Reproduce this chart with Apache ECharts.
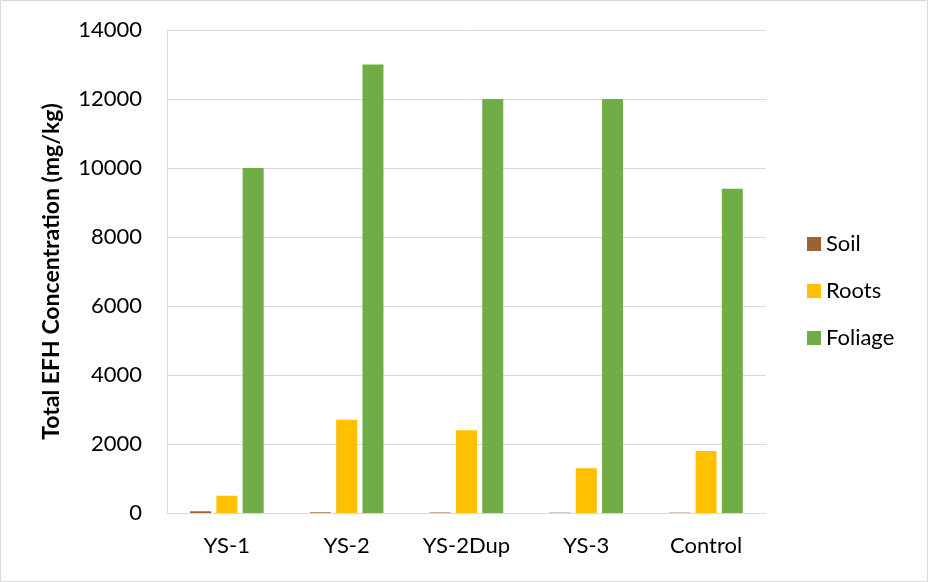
<!DOCTYPE html>
<html><head><meta charset="utf-8">
<script src="https://cdn.jsdelivr.net/npm/echarts@6/dist/echarts.min.js"></script>
<style>html,body{margin:0;padding:0;background:#fff}#c{width:928px;height:582px}</style>
</head><body><div id="c"></div>
<script>
const categories = ['YS-1', 'YS-2', 'YS-2Dup', 'YS-3', 'Control'];
const soil = [50, 20, 15, 10, 10];
const roots = [500, 2700, 2400, 1300, 1800];
const foliage = [10000, 13000, 12000, 12000, 9400];
const yTicks = [0, 2000, 4000, 6000, 8000, 10000, 12000, 14000];

const font = 'Lato, "Open Sans", sans-serif';
const chart = echarts.init(document.getElementById('c'), null, {renderer: 'canvas'});
chart.setOption({
  animation: false,
  backgroundColor: '#fff',
  graphic: [{type: 'rect', shape: {x: 0.5, y: 0.5, width: 927, height: 581}, style: {fill: 'none', stroke: '#d9d9d9', lineWidth: 1}}],
  grid: {left: 167, right: 162, top: 30, bottom: 69, containLabel: false},
  legend: {
    orient: 'vertical', left: 802, top: 228, itemWidth: 14, itemHeight: 14, itemGap: 25,
    icon: 'rect',
    textStyle: {fontFamily: font, fontSize: 22, color: '#000'},
    data: ['Soil', 'Roots', 'Foliage']
  },
  xAxis: {
    type: 'category', data: categories,
    axisLine: {lineStyle: {color: '#d9d9d9', width: 1}},
    axisTick: {show: false},
    axisLabel: {fontFamily: font, fontSize: 22, color: '#000', margin: 22}
  },
  yAxis: {
    type: 'value', min: yTicks[0], max: yTicks[yTicks.length - 1], interval: 2000,
    name: 'Total EFH Concentration (mg/kg)', nameLocation: 'middle', nameGap: 104,
    nameTextStyle: {fontFamily: font, fontSize: 23, fontWeight: 'bold', color: '#000'},
    axisLine: {show: true, lineStyle: {color: '#d9d9d9'}},
    axisTick: {show: false},
    splitLine: {lineStyle: {color: '#d9d9d9', width: 1}},
    axisLabel: {fontFamily: font, fontSize: 22, color: '#000', margin: 25, formatter: v => String(v)}
  },
  series: [
    {name: 'Soil', type: 'bar', data: soil, itemStyle: {color: '#9C6234'}, barWidth: 21, barGap: '25%'},
    {name: 'Roots', type: 'bar', data: roots, itemStyle: {color: '#FFC000'}, barWidth: 21, barGap: '25%'},
    {name: 'Foliage', type: 'bar', data: foliage, itemStyle: {color: '#70AD47'}, barWidth: 21, barGap: '25%'}
  ]
});
</script></body></html>
